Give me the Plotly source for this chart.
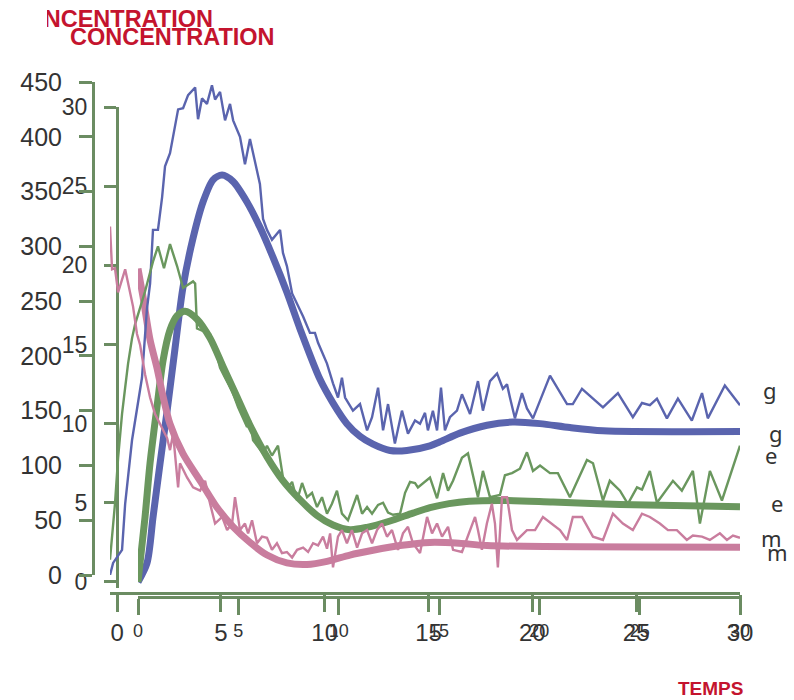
import plotly.graph_objects as go

# ---------------- data ----------------
# smooth (model) curves, right-hand scale 0-30
g_fit_t = [0, 0.45, 0.75, 1.10, 1.44, 1.84, 2.24, 2.74, 3.24, 3.74, 4.19, 4.73, 5.43, 6.08, 6.73,
           7.42, 8.07, 9.07, 9.72, 10.41, 11.06, 11.71, 12.56, 13.40, 14.55, 15.05, 16.04, 17.39,
           18.68, 20.03, 21.52, 23.17, 30]
g_fit = [0, 1.2, 4.1, 7.5, 10.7, 14.7, 18.6, 21.7, 24.0, 25.4, 25.7, 25.3, 24.0, 22.4, 20.5,
         18.3, 16.0, 12.8, 11.3, 10.0, 9.2, 8.7, 8.3, 8.3, 8.6, 8.85, 9.4, 9.9,
         10.1, 10.0, 9.75, 9.55, 9.5]

e_fit_t = [0, 0.35, 0.60, 0.95, 1.25, 1.59, 1.94, 2.34, 2.94, 3.59, 4.24, 4.93, 5.58, 6.43, 7.22,
           8.07, 8.92, 9.72, 10.56, 11.41, 12.56, 13.70, 14.55, 15.50, 16.50, 18.19, 20.68, 24.02, 30]
e_fit = [0, 4.1, 7.5, 11.1, 14.0, 15.9, 16.8, 17.1, 16.6, 15.4, 13.6, 11.7, 9.9, 7.9, 6.4,
         5.2, 4.2, 3.6, 3.3, 3.45, 3.85, 4.35, 4.7, 4.95, 5.1, 5.15, 5.05, 4.9, 4.75]

m_fit_t = [0, 0.25, 0.60, 0.95, 1.20, 1.59, 2.24, 3.09, 3.94, 4.73, 5.58, 6.43, 7.42, 8.42, 9.42,
           10.56, 11.71, 13.05, 14.55, 16.00, 17.39, 30]
m_fit = [19.8, 18.0, 15.3, 13.5, 12.0, 10.0, 8.1, 6.4, 4.7, 3.5, 2.5, 1.7, 1.2, 1.1, 1.3,
         1.7, 2.0, 2.3, 2.5, 2.45, 2.3, 2.2]

# noisy observations, left-hand scale 0-450
g_obs_t = [-0.34, -0.19, 0.24, 0.39, 0.72, 0.96, 1.20, 1.44, 1.59, 1.73, 1.97, 2.17, 2.31, 2.55, 2.70,
           2.94, 3.18, 3.42, 3.76, 3.90, 4.09, 4.33, 4.57, 4.72, 4.96, 5.20, 5.44, 5.59, 5.92, 6.16,
           6.40, 6.74, 6.88, 7.03, 7.22, 7.46, 7.70, 7.85, 7.99, 8.18, 8.43, 8.67, 8.96, 9.29, 9.53,
           9.68, 10.11, 10.40, 10.64, 10.83, 10.98, 11.36, 11.70, 12.04, 12.28, 12.57, 12.81, 13.05,
           13.38, 13.72, 14.01, 14.35, 14.59, 14.83, 14.97, 15.21, 15.41, 15.60, 15.79, 16.03, 16.37,
           16.61, 17.00, 17.38, 17.62, 17.96, 18.30, 18.58, 18.78, 18.92, 19.16, 19.50, 19.74, 20.03,
           20.85, 21.67, 21.95, 22.39, 23.40, 24.12, 24.84, 25.28, 25.66, 26.00, 26.48, 27.01, 27.68,
           28.17, 28.45, 29.27, 30.0]
g_obs = [0, 11, 23, 65, 123, 153, 180, 243, 266, 315, 315, 345, 373, 385, 400,
         425, 426, 438, 445, 416, 435, 430, 447, 434, 441, 415, 430, 415, 400, 375,
         398, 370, 357, 325, 315, 306, 312, 315, 294, 282, 257, 248, 236, 221, 221,
         212, 193, 175, 162, 180, 162, 150, 156, 132, 144, 171, 132, 156,
         120, 150, 129, 141, 138, 148, 132, 150, 132, 171, 132, 144, 150,
         165, 147, 177, 150, 177, 184, 170, 174, 162, 143, 166, 152, 143,
         182, 156, 156, 170, 153, 166, 144, 157, 155, 161, 143, 161, 141,
         166, 143, 173, 155]

e_obs_t = [-0.34, -0.10, 0.05, 0.24, 0.39, 0.53, 0.72, 0.87, 1.35, 1.73, 1.97, 2.26, 2.55, 2.89, 3.18,
           3.42, 3.66, 3.76, 3.85, 4.24, 4.48, 4.72, 4.96, 5.20, 5.54, 5.83, 6.26, 6.40, 6.55, 7.03,
           7.22, 7.46, 7.75, 7.99, 8.23, 8.43, 8.67, 8.91, 9.15, 9.39, 9.63, 9.87, 10.11, 10.35, 10.59,
           10.83, 11.12, 11.56, 11.80, 12.04, 12.28, 12.57, 12.81, 13.05, 13.29, 13.63, 13.87, 14.11,
           14.35, 14.49, 14.73, 14.97, 15.07, 15.41, 15.70, 15.94, 16.18, 16.61, 16.90, 17.38, 17.62,
           17.96, 18.44, 18.68, 19.02, 19.40, 19.74, 20.03, 20.37, 20.85, 21.23, 21.81, 22.63, 22.92,
           23.40, 23.73, 24.22, 24.60, 25.04, 25.28, 25.66, 26.00, 26.77, 27.20, 27.73, 28.07, 28.55,
           29.13, 30.0]
e_obs = [14, 65, 107, 147, 171, 193, 216, 229, 259, 286, 300, 280, 302, 282, 262,
         265, 268, 266, 225, 222, 220, 207, 189, 180, 168, 153, 135, 141, 123, 111,
         118, 109, 118, 89, 80, 85, 68, 84, 71, 75, 62, 71, 56, 65, 77,
         56, 50, 73, 56, 62, 56, 64, 66, 57, 55, 56, 75, 85,
         84, 80, 84, 88, 89, 70, 93, 77, 86, 107, 111, 71, 95,
         71, 73, 91, 93, 97, 112, 95, 100, 93, 93, 71, 105, 102,
         68, 86, 77, 65, 80, 78, 95, 66, 86, 77, 95, 47, 95,
         68, 118]

m_obs_t = [-0.34, -0.24, -0.10, 0.05, 0.39, 0.53, 0.63, 0.77, 0.96, 1.11, 1.35, 1.59, 1.83, 2.07, 2.41,
           2.55, 2.70, 2.94, 3.03, 3.37, 3.66, 4.00, 4.24, 4.48, 4.72, 5.06, 5.30, 5.54, 5.68, 5.92,
           6.16, 6.31, 6.50, 6.74, 6.98, 7.22, 7.46, 7.70, 7.94, 8.18, 8.43, 8.67, 8.96, 9.20, 9.44,
           9.68, 9.92, 10.11, 10.26, 10.40, 10.64, 10.83, 11.07, 11.31, 11.56, 11.80, 12.04, 12.28,
           12.52, 12.76, 13.00, 13.24, 13.53, 13.77, 14.01, 14.25, 14.59, 14.93, 15.17, 15.41, 15.65,
           15.94, 16.18, 16.61, 16.90, 17.24, 17.38, 17.57, 17.81, 18.05, 18.20, 18.34, 18.54, 18.78,
           19.02, 19.26, 19.74, 20.13, 20.51, 20.94, 21.33, 21.67, 21.95, 22.39, 22.92, 23.40, 23.88,
           24.36, 24.84, 25.28, 25.66, 26.14, 26.53, 26.96, 27.44, 27.73, 28.17, 28.55, 29.03, 29.37,
           29.66, 30.0]
m_obs = [318, 279, 280, 258, 279, 266, 257, 245, 220, 210, 183, 162, 147, 138, 125,
         114, 129, 80, 102, 89, 80, 77, 86, 65, 47, 53, 41, 47, 71, 41,
         47, 38, 50, 29, 35, 34, 23, 29, 20, 21, 16, 23, 25, 21, 29,
         27, 35, 24, 38, 7, 35, 41, 29, 41, 25, 38, 41, 29,
         41, 47, 35, 41, 23, 38, 44, 29, 20, 53, 38, 47, 35,
         44, 23, 21, 35, 53, 41, 23, 47, 65, 47, 7, 71, 71,
         41, 32, 41, 41, 53, 47, 41, 32, 53, 53, 35, 32, 56,
         47, 41, 56, 53, 47, 41, 41, 32, 36, 35, 32, 38, 32,
         36, 34]

fit_ticks = [0, 5, 10, 15, 20, 25, 30]
obs_yticks = [0, 50, 100, 150, 200, 250, 300, 350, 400, 450]
time_ticks = [0, 5, 10, 15, 20, 25, 30]

# ---------------- style ----------------
BLUE = "#5a64ae"
GREEN = "#6a975e"
PINK = "#c97d9e"
AXIS = "#6b8c62"
LABEL = "#333333"
RED = "#c4142e"
FONT = "Liberation Sans, Arial, sans-serif"

# full window; the page body margin is removed below so paper == window pixels
W, H, OFF = 794, 700, 0


def px(x):
    return min(1.0, max(0.0, (x - OFF) / W))


def py(y):
    return min(1.0, max(0.0, 1 - (y - OFF) / H))


fig = go.Figure()

# smooth curves (subplot x / y)
for t, v, c in [(g_fit_t, g_fit, BLUE), (e_fit_t, e_fit, GREEN), (m_fit_t, m_fit, PINK)]:
    fig.add_trace(go.Scatter(x=t, y=v, mode="lines", xaxis="x", yaxis="y",
                             line=dict(color=c, width=7, shape="spline", smoothing=0.8),
                             hoverinfo="skip"))

# noisy curves (subplot x2 / y2), drawn on top
for t, v, c in [(g_obs_t, g_obs, BLUE), (e_obs_t, e_obs, GREEN), (m_obs_t, m_obs, PINK)]:
    fig.add_trace(go.Scatter(x=t, y=v, mode="lines", xaxis="x2", yaxis="y2",
                             line=dict(color=c, width=2.4), hoverinfo="skip"))

# clipped first title (text trace in its own clipping subplot)
fig.add_trace(go.Scatter(x=[0.656], y=[0.5], mode="text", text=["CONCENTRATION"],
                         textposition="middle left", cliponaxis=True,
                         textfont=dict(family=FONT, size=23.5, color=RED, weight="bold"),
                         xaxis="x3", yaxis="y3", hoverinfo="skip"))

common = dict(showgrid=False, zeroline=False, showline=True, linecolor=AXIS, linewidth=3,
              ticks="outside", tickcolor=AXIS, tickwidth=3, automargin=False)

fig.update_layout(
    width=W, height=H,
    margin=dict(l=0, r=0, t=0, b=0, pad=0, autoexpand=False),
    paper_bgcolor="white", plot_bgcolor="rgba(0,0,0,0)",
    showlegend=False,
    xaxis=dict(domain=[px(138), px(740)], range=[0, 30], anchor="free", position=py(597),
               tickvals=fit_ticks, ticklen=16, ticklabelstandoff=0,
               tickfont=dict(family=FONT, size=18, color=LABEL), **common),
    yaxis=dict(domain=[py(587.5), py(107)], range=[-0.35, 30], anchor="free", position=px(117),
               tickvals=fit_ticks, ticklen=12, ticklabelstandoff=12,
               tickfont=dict(family=FONT, size=23, color=LABEL), **common),
    xaxis2=dict(domain=[px(110), px(740)], range=[-0.34, 30], anchor="free", position=py(593),
                tickvals=time_ticks, ticklen=17, ticklabelstandoff=0,
                tickfont=dict(family=FONT, size=24, color=LABEL), **common),
    yaxis2=dict(domain=[py(575), py(82)], range=[0, 450], anchor="free", position=px(93),
                tickvals=obs_yticks, ticklen=13, ticklabelstandoff=12,
                tickfont=dict(family=FONT, size=25, color=LABEL), **common),
    xaxis3=dict(domain=[px(47), px(300)], range=[0, 1], visible=False, fixedrange=True),
    yaxis3=dict(domain=[py(40), py(2)], range=[0, 1], visible=False, fixedrange=True),
)

annots = [
    dict(text="CONCENTRATION", x=px(277), y=py(37), xanchor="right", yanchor="middle",
         font=dict(family=FONT, size=23.5, color=RED, weight="bold")),
    dict(text="TEMPS", x=px(745), y=py(688), xanchor="right", yanchor="middle",
         font=dict(family=FONT, size=19, color=RED, weight="bold")),
    dict(text="g", x=px(770), y=py(390), font=dict(family="Noto Sans", size=22, color=LABEL)),
    dict(text="e", x=px(771), y=py(455), font=dict(family="Noto Sans", size=22, color=LABEL)),
    dict(text="m", x=px(771), y=py(538), font=dict(family="Noto Sans", size=22, color=LABEL)),
    dict(text="g", x=px(776), y=py(433), font=dict(family="Noto Sans", size=22, color=LABEL)),
    dict(text="e", x=px(777), y=py(503), font=dict(family="Noto Sans", size=22, color=LABEL)),
    dict(text="m", x=px(777), y=py(552), font=dict(family="Noto Sans", size=22, color=LABEL)),
]
for a in annots:
    a.setdefault("xanchor", "center")
    a.setdefault("yanchor", "middle")
    fig.add_annotation(xref="paper", yref="paper", showarrow=False, **a)

fig.write_html("out.html",
               config={"displayModeBar": False},
               post_script="document.body.style.margin='0px';document.body.style.overflow='hidden';")
